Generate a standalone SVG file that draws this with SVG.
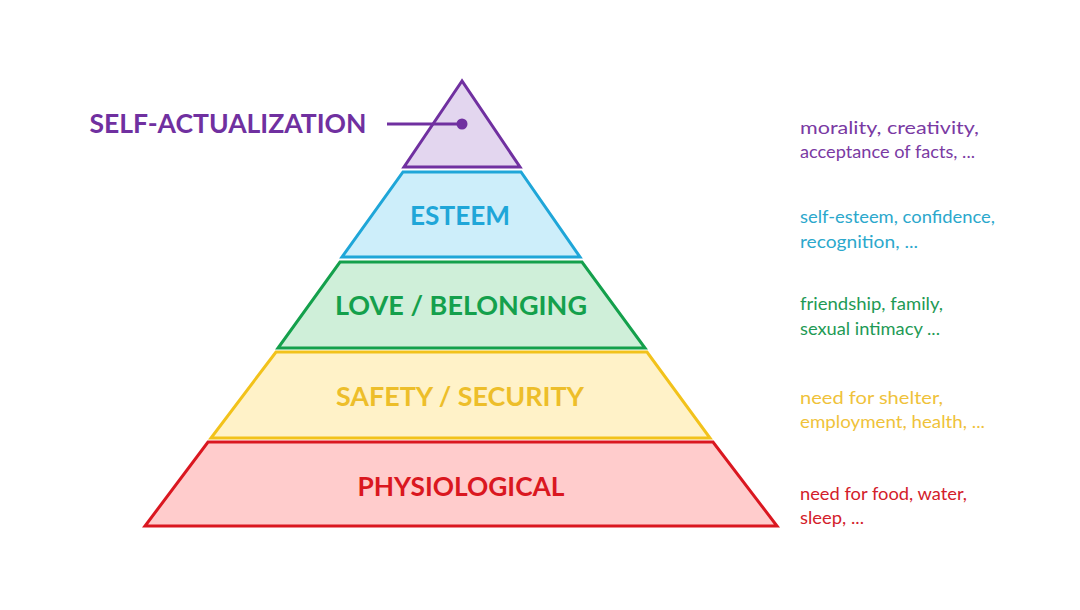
<svg xmlns="http://www.w3.org/2000/svg" width="1080" height="610" viewBox="0 0 1080 610">
<style>
.layer{stroke-width:3;stroke-linejoin:miter}
.title{font-family:Lato,"Open Sans","Liberation Sans",sans-serif;font-weight:bold;font-size:26px;text-anchor:middle}
.desc{font-family:Lato,"Open Sans","Liberation Sans",sans-serif;font-size:17px}
.purple{fill:#7030A0}.blue{fill:#1FA6D8}.green{fill:#14A04C}.yellow{fill:#EDBE2A}.red{fill:#DA1720}
.dp{fill:#7A3AA3}.db{fill:#2BA8CC}.dg{fill:#1E9A55}.dy{fill:#EFC23A}.dr{fill:#D3202A}
</style>
<rect width="1080" height="610" fill="#ffffff"/>
<g id="self-actualization">
<polygon class="layer" points="462,81 404,167 520,167" fill="#E3D6EF" stroke="#7030A0"/>
<text class="title purple" x="228" y="133" textLength="277" lengthAdjust="spacingAndGlyphs">SELF-ACTUALIZATION</text>
</g>
<g id="esteem">
<polygon class="layer" points="403,172 521,172 580,257 342,257" fill="#CDEEFA" stroke="#1FA6D8"/>
<text class="title blue" x="460" y="225" textLength="100" lengthAdjust="spacingAndGlyphs">ESTEEM</text>
</g>
<g id="love">
<polygon class="layer" points="340,262 582,262 645,348 278,348" fill="#CFEFD9" stroke="#14A04C"/>
<text class="title green" x="461" y="315" textLength="252" lengthAdjust="spacingAndGlyphs">LOVE / BELONGING</text>
</g>
<g id="safety">
<polygon class="layer" points="276,352 647,352 710,438 211,438" fill="#FFF2C8" stroke="#F2C21B"/>
<text class="title yellow" x="460" y="406" textLength="248" lengthAdjust="spacingAndGlyphs">SAFETY / SECURITY</text>
</g>
<g id="physiological">
<polygon class="layer" points="208,442 713,442 777,526 145,526" fill="#FFCCCC" stroke="#DA1720"/>
<text class="title red" x="461" y="496" textLength="207" lengthAdjust="spacingAndGlyphs">PHYSIOLOGICAL</text>
</g>
<g id="connectors">
<line x1="387" y1="124" x2="462" y2="124" stroke="#7030A0" stroke-width="3"/>
<circle cx="462" cy="124" r="5.5" fill="#7030A0"/>
</g>
<g id="descriptions">
<text class="desc dp" x="800" y="134" textLength="179" lengthAdjust="spacingAndGlyphs">morality, creativity,</text>
<text class="desc dp" x="800" y="158" textLength="175" lengthAdjust="spacingAndGlyphs">acceptance of facts, ...</text>
<text class="desc db" x="800" y="223" textLength="195" lengthAdjust="spacingAndGlyphs">self-esteem, confidence,</text>
<text class="desc db" x="800" y="248" textLength="118" lengthAdjust="spacingAndGlyphs">recognition, ...</text>
<text class="desc dg" x="800" y="310" textLength="143" lengthAdjust="spacingAndGlyphs">friendship, family,</text>
<text class="desc dg" x="800" y="335" textLength="140" lengthAdjust="spacingAndGlyphs">sexual intimacy ...</text>
<text class="desc dy" x="800" y="404" textLength="143" lengthAdjust="spacingAndGlyphs">need for shelter,</text>
<text class="desc dy" x="800" y="428" textLength="185" lengthAdjust="spacingAndGlyphs">employment, health, ...</text>
<text class="desc dr" x="800" y="500" textLength="167" lengthAdjust="spacingAndGlyphs">need for food, water,</text>
<text class="desc dr" x="800" y="524" textLength="64" lengthAdjust="spacingAndGlyphs">sleep, ...</text>
</g>
</svg>
